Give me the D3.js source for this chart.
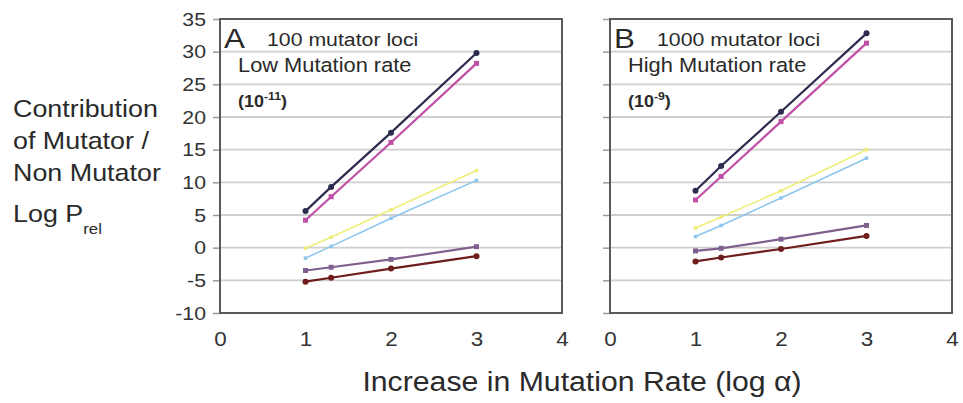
<!DOCTYPE html>
<html>
<head>
<meta charset="utf-8">
<script src="https://cdn.jsdelivr.net/npm/d3@7"></script>
<style>
  body { margin: 0; background: #fff; }
  svg { display: block; font-family: Arial, "Liberation Sans", sans-serif; }
</style>
</head>
<body>
<script>
var width = 963;
var height = 403;
var stretch = 1.12; // the source picture is a bit wider than tall

// x positions of the points (log alpha)
var xVals = [1, 1.3, 2, 3];
var xTicks = [0, 1, 2, 3, 4];
var yTicks = [-10, -5, 0, 5, 10, 15, 20, 25, 30, 35];

var seriesNames = ["navy", "magenta", "yellow", "cyan", "violet", "darkred"];
var seriesColors = ["#2b2b4e", "#c24fa6", "#eeee78", "#8cc6ee", "#80608e", "#6e1c1c"];

// panel A: 100 mutator loci, low mutation rate
var aNavy    = [5.6, 9.3, 17.6, 29.8];
var aMagenta = [4.2, 7.8, 16.1, 28.2];
var aYellow  = [-0.1, 1.6, 5.8, 11.8];
var aCyan    = [-1.6, 0.2, 4.5, 10.3];
var aViolet  = [-3.5, -3.0, -1.8, 0.15];
var aDarkred = [-5.2, -4.6, -3.2, -1.3];

// panel B: 1000 mutator loci, high mutation rate
var bNavy    = [8.7, 12.5, 20.8, 32.8];
var bMagenta = [7.3, 10.9, 19.3, 31.3];
var bYellow  = [3.0, 4.7, 8.7, 15.0];
var bCyan    = [1.7, 3.4, 7.6, 13.7];
var bViolet  = [-0.5, -0.1, 1.3, 3.4];
var bDarkred = [-2.1, -1.5, -0.2, 1.8];

var panelA = [aNavy, aMagenta, aYellow, aCyan, aViolet, aDarkred];
var panelB = [bNavy, bMagenta, bYellow, bCyan, bViolet, bDarkred];

var pw = 342, ph = 294;

var x = d3.scaleLinear().domain([0, 4]).range([0, pw]);
var y = d3.scaleLinear().domain([-10, 35]).range([ph, 0]);

var svg = d3.select("body").append("svg")
    .attr("width", width)
    .attr("height", height);

// text drawn a little wider, like the source
function addText(parent, tx, ty, size, str, anchor) {
  return parent.append("text")
    .attr("transform", "translate(" + tx + "," + ty + ") scale(" + stretch + ",1)")
    .attr("font-size", size)
    .attr("fill", "#2a2a2a")
    .attr("text-anchor", anchor || "start")
    .text(str);
}

function drawPanel(left, series, showLabels, letter, line1, line2, expo) {
  var g = svg.append("g").attr("transform", "translate(" + left + ",19)");

  // grid lines
  g.selectAll(".grid").data(yTicks.filter(function(d) { return d > -10 && d < 35; }))
    .enter().append("line")
      .attr("x1", 0).attr("x2", pw)
      .attr("y1", function(d) { return y(d); })
      .attr("y2", function(d) { return y(d); })
      .attr("stroke", "#cfcfcf")
      .attr("stroke-width", 1.8);

  // y axis
  var yAxis = d3.axisLeft(y).tickValues(yTicks).tickSize(7).tickPadding(5.5)
    .tickFormat(function(d) { return showLabels ? String(d) : ""; });
  var ya = g.append("g").call(yAxis);
  ya.select(".domain").remove();
  ya.selectAll("line").attr("stroke", "#9a9a9a").attr("stroke-width", 1.5);
  ya.selectAll("text").attr("font-size", 19).attr("fill", "#333")
    .attr("font-family", "Arial, 'Liberation Sans', sans-serif")
    .attr("transform", "scale(" + stretch + ",1)");

  // x axis labels
  var xAxis = d3.axisBottom(x).tickValues(xTicks).tickSize(0).tickPadding(19)
    .tickFormat(function(d) { return String(d); });
  var xa = g.append("g").attr("transform", "translate(0," + ph + ")").call(xAxis);
  xa.select(".domain").remove();
  xa.selectAll("text").attr("font-size", 20).attr("fill", "#333")
    .attr("font-family", "Arial, 'Liberation Sans', sans-serif")
    .attr("transform", "scale(" + stretch + ",1)");

  // frame
  g.append("rect")
    .attr("x", 0).attr("y", 0)
    .attr("width", pw).attr("height", ph)
    .attr("fill", "none")
    .attr("stroke", "#5a5a5a")
    .attr("stroke-width", 2);

  var line = d3.line()
    .x(function(d, i) { return x(xVals[i]); })
    .y(function(d) { return y(d); });

  series.forEach(function(vals, k) {
    var c = seriesColors[k];
    var light = (k == 2 || k == 3);
    g.append("path")
      .datum(vals)
      .attr("d", line)
      .attr("fill", "none")
      .attr("stroke", c)
      .attr("stroke-width", light ? 1.6 : 2.2);
    var mk = g.selectAll(".m" + k).data(vals).enter();
    if (k == 0 || k == 5) {
      mk.append("circle")
        .attr("cx", function(d, i) { return x(xVals[i]); })
        .attr("cy", function(d) { return y(d); })
        .attr("r", 3)
        .attr("fill", c);
    } else {
      var s = light ? 3.5 : 5;
      mk.append("rect")
        .attr("x", function(d, i) { return x(xVals[i]) - s / 2; })
        .attr("y", function(d) { return y(d) - s / 2; })
        .attr("width", s).attr("height", s)
        .attr("fill", c);
    }
  });

  // panel text
  addText(g, 4, 29, 28, letter);
  addText(g, 47, 27, 19, line1);
  addText(g, 18, 53, 19.5, line2);
  var t = g.append("text")
    .attr("transform", "translate(18,88) scale(" + stretch + ",1)")
    .attr("font-size", 16).attr("font-weight", "bold").attr("fill", "#2a2a2a");
  t.append("tspan").text("(10");
  t.append("tspan").attr("font-size", 11).attr("dy", -7).text(expo);
  t.append("tspan").attr("dy", 7).text(")");
}

drawPanel(220, panelA, true, "A", "100 mutator loci", "Low Mutation rate", "-11");
drawPanel(610, panelB, false, "B", "1000 mutator loci", "High Mutation rate", "-9");

// left title
var leftLines = ["Contribution", "of Mutator /", "Non Mutator"];
leftLines.forEach(function(d, i) {
  addText(svg, 13, 117 + i * 32, 24, d);
});

var lp = addText(svg, 13, 222, 24, "Log P");
lp.append("tspan").attr("font-size", 15).attr("dy", 12).text("rel");

// x title
addText(svg, 582, 391, 27, "Increase in Mutation Rate (log \u03b1)", "middle");
</script>
</body>
</html>
